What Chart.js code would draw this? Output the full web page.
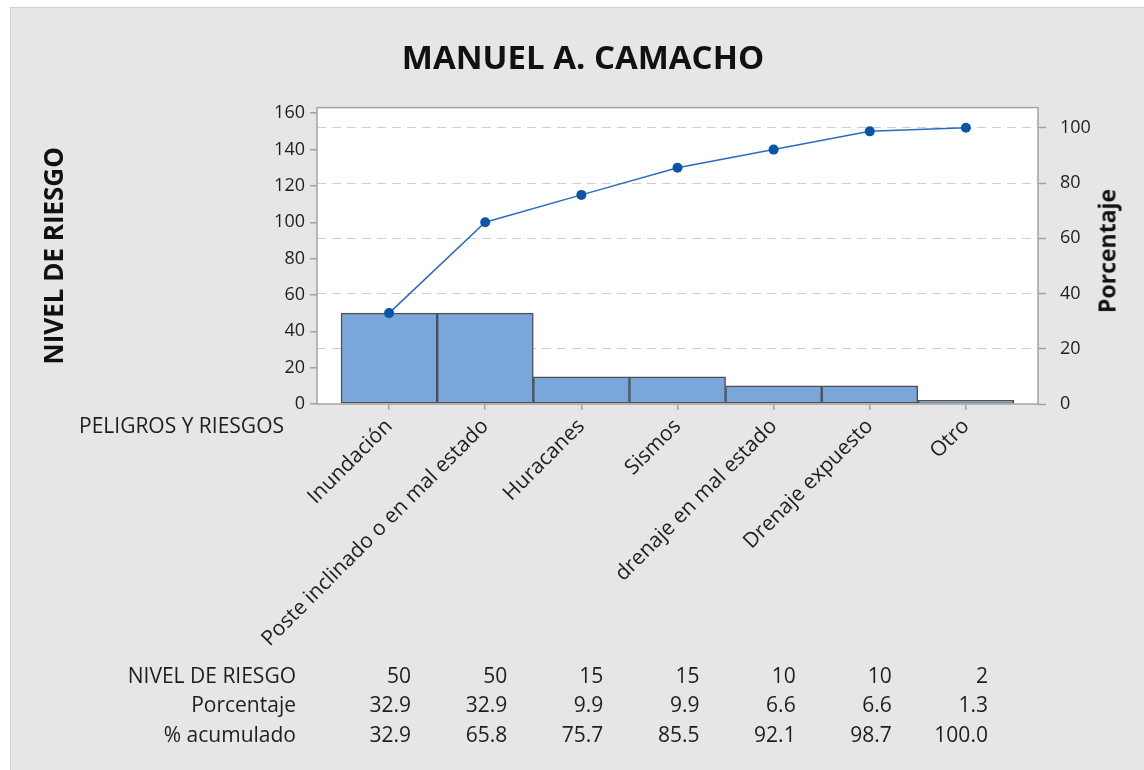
<!DOCTYPE html>
<html><head><meta charset="utf-8">
<script src="https://cdn.jsdelivr.net/npm/chart.js@4.4.1/dist/chart.umd.min.js"></script>
<style>
html,body{margin:0;padding:0;background:#fff;}
#wrap{position:relative;width:1144px;height:770px;overflow:hidden;}
#panel{position:absolute;left:10px;top:7px;right:0;bottom:0;background:#e6e6e6;border-left:1px solid #d2d2d2;border-top:1px solid #d2d2d2;}
canvas{position:absolute;left:0;top:0;}
.t{position:absolute;font-family:"Open Sans",sans-serif;color:#1e1e1e;white-space:nowrap;line-height:1;font-size:21px;}
.r{text-align:right;}
</style></head><body>
<div id="wrap"><div id="panel"></div><canvas id="c" width="1144" height="770"></canvas><div id="overlay"></div></div>
<script>
const chartTitle = "MANUEL A. CAMACHO";
const categories = ["Inundación","Poste inclinado o en mal estado","Huracanes","Sismos","drenaje en mal estado","Drenaje expuesto","Otro"];
const nivel = [50, 50, 15, 15, 10, 10, 2];
const porcentaje = [32.9, 32.9, 9.9, 9.9, 6.6, 6.6, 1.3];
const acumulado = [32.9, 65.8, 75.7, 85.5, 92.1, 98.7, 100.0];
const rowLabels = ["NIVEL DE RIESGO", "Porcentaje", "% acumulado"];
const leftTicks = [0, 20, 40, 60, 80, 100, 120, 140, 160];
const rightTicks = [0, 20, 40, 60, 80, 100];
const total = 152;
const leftMax = 163.1;
const rightMax = leftMax * 100 / total;

const FONT = '"Open Sans", sans-serif';
const TXT = '#1e1e1e';
const FRAME = '#a3a3a3';

const plotBg = {
  id: 'plotBg',
  beforeDraw(chart) {
    const {ctx, chartArea: a} = chart;
    ctx.save();
    ctx.fillStyle = '#ffffff';
    ctx.fillRect(a.left, a.top, a.right - a.left, a.bottom - a.top);
    ctx.restore();
  },
  afterDraw(chart) {
    const {ctx, chartArea: a} = chart;
    ctx.save();
    ctx.strokeStyle = FRAME;
    ctx.lineWidth = 1.5;
    ctx.strokeRect(a.left, a.top, a.right - a.left, a.bottom - a.top);
    ctx.restore();
  }
};

const ctx = document.getElementById('c').getContext('2d');
const chart = new Chart(ctx, {
  type: 'bar',
  data: {
    datasets: [
      {
        type: 'line',
        label: '% acumulado',
        data: acumulado.map((v, i) => ({x: i, y: v})),
        yAxisID: 'y1',
        borderColor: '#2b6cc0',
        borderWidth: 1.5,
        pointRadius: 5,
        pointBackgroundColor: '#0b55a8',
        pointBorderColor: '#0b55a8',
        pointBorderWidth: 0,
        tension: 0,
        order: 0
      },
      {
        type: 'bar',
        label: 'NIVEL DE RIESGO',
        data: nivel.map((v, i) => ({x: i, y: v})),
        yAxisID: 'y',
        backgroundColor: '#7ba6d9',
        borderColor: '#505050',
        borderWidth: 1.5,
        borderSkipped: false,
        categoryPercentage: 1,
        barPercentage: 1,
        order: 1
      }
    ]
  },
  options: {
    responsive: false,
    animation: false,
    devicePixelRatio: 1,
    layout: {padding: {left: 22, right: 0, top: 0, bottom: 0}},
    plugins: {
      legend: {display: false},
      tooltip: {enabled: false},
      title: {
        display: true,
        text: chartTitle,
        color: '#111',
        font: {family: FONT, size: 33, weight: 'bold'},
        padding: {top: 40, bottom: 28}
      }
    },
    scales: {
      x: {
        type: 'linear',
        min: -0.75,
        max: 6.75,
        offset: false,
        afterFit(s) { s.height = 366; },
        border: {display: false},
        grid: {offset: false, drawOnChartArea: false, tickLength: 6, color: FRAME, tickColor: FRAME, lineWidth: 1.5},
        ticks: {
          stepSize: 1,
          includeBounds: false,
          autoSkip: false,
          minRotation: 45,
          maxRotation: 45,
          padding: 4,
          color: TXT,
          font: {family: FONT, size: 21},
          callback: (v) => (Number.isInteger(v) && categories[v] !== undefined) ? categories[v] : ''
        }
      },
      y: {
        position: 'left',
        min: 0,
        max: leftMax,
        afterFit(s) { s.width = 295; },
        border: {display: false},
        grid: {drawOnChartArea: false, tickLength: 7, color: FRAME, tickColor: FRAME, lineWidth: 1.5},
        afterBuildTicks(s) { s.ticks = leftTicks.map(v => ({value: v})); },
        ticks: {color: TXT, padding: 5, font: {family: FONT, size: 18}},
        title: {
          display: true,
          text: 'NIVEL DE RIESGO',
          color: '#111',
          font: {family: FONT, size: 26, weight: 'bold'},
          padding: {top: 18, bottom: 0}
        }
      },
      y1: {
        position: 'right',
        min: 0,
        max: rightMax,
        afterFit(s) { s.width = 106; },
        border: {display: false, dash: [9, 6]},
        afterBuildTicks(s) { s.ticks = rightTicks.map(v => ({value: v})); },
        grid: {
          drawOnChartArea: true,
          tickLength: 8,
          lineWidth: 1,
          tickBorderDash: [],
          tickWidth: 1.5,
          tickColor: FRAME,
          color: (c) => (c.tick && c.tick.value === 0) ? 'rgba(0,0,0,0)' : '#cfcfcf'
        },
        ticks: {color: TXT, padding: 14, font: {family: FONT, size: 18}}
      }
    }
  },
  plugins: [plotBg]
});

// Overlay texts (axis caption, right title, data table)
const ov = document.getElementById('overlay');
function addText(txt, css, cls) {
  const d = document.createElement('div');
  d.className = 't' + (cls ? ' ' + cls : '');
  d.textContent = txt;
  Object.assign(d.style, css);
  ov.appendChild(d);
  return d;
}
addText('PELIGROS Y RIESGOS', {right: (1144 - 284) + 'px', top: '415px'}, 'r');
addText('Porcentaje', {left: '1107px', top: '251px', fontWeight: 'bold', fontSize: '23px', color: '#111', transform: 'translate(-50%,-50%) rotate(-90deg)'});
const rowY = [665, 694, 724];
const rows = [nivel.map(v => String(v)), porcentaje.map(v => v.toFixed(1)), acumulado.map(v => v.toFixed(1))];
rowLabels.forEach((lab, r) => {
  addText(lab, {right: (1144 - 296) + 'px', top: rowY[r] + 'px'}, 'r');
  rows[r].forEach((val, i) => {
    const px = chart.scales.x.getPixelForValue(i) + 22;
    addText(val, {right: (1144 - px) + 'px', top: rowY[r] + 'px'}, 'r');
  });
});
</script>
</body></html>
